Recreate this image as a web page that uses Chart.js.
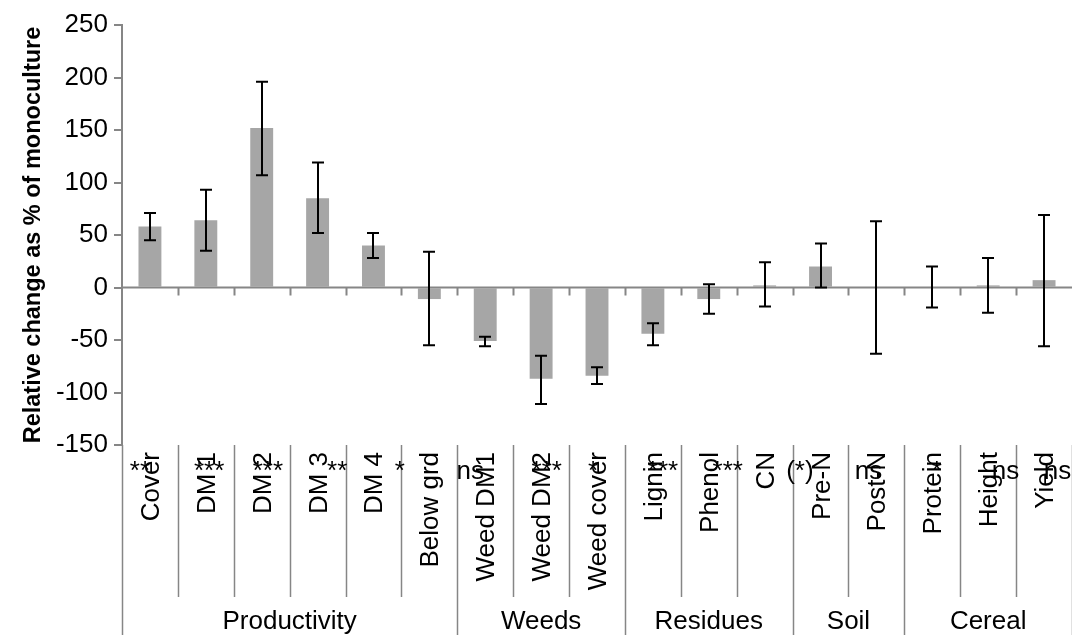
<!DOCTYPE html>
<html>
<head>
<meta charset="utf-8">
<script src="https://cdn.jsdelivr.net/npm/chart.js@4/dist/chart.umd.min.js"></script>
<style>
  body { margin: 0; background: #fff; }
  #wrap { width: 1072px; height: 635px; }
</style>
</head>
<body>
<div id="wrap"><canvas id="chart" width="1072" height="635"></canvas></div>
<script>
// categories and groups
const labels = ['Cover', 'DM 1', 'DM 2', 'DM 3', 'DM 4', 'Below grd', 'Weed DM1', 'Weed DM2', 'Weed cover',
  'Lignin', 'Phenol', 'CN', 'Pre-N', 'Post-N', 'Protein', 'Height', 'Yield'];
const groups = ['Productivity', 'Weeds', 'Residues', 'Soil', 'Cereal'];
const groupSizes = [6, 3, 3, 2, 3];

// relative change (%) and error bar ends
const values = [58, 64, 152, 85, 40, -11, -51, -87, -84, -44, -11, 2, 20, 0, 0, 2, 7];
const errHigh = [71, 93, 196, 119, 52, 34, -47, -65, -76, -34, 3, 24, 42, 63, 20, 28, 69];
const errLow = [45, 35, 107, 52, 28, -55, -56, -111, -92, -55, -25, -18, 0, -63, -19, -24, -56];

// significance marks
const sigMarks = ['**', '***', '***', '**', '*', 'ns', '', '***', '*', '***', '***', '(*)', '', 'ns', '*', 'ns', 'ns'];

const yTicks = { min: -150, max: 250, step: 50 };

// layout only: where each mark sits relative to its category centre (in categories)
const sigShift = [-0.18, 0.06, 0.11, 0.35, 0.47, 0.73, 0, 0.10, -0.07, 0.18, 0.34, 0.63, 0, -0.14, 0.08, 0.31, 0.24];

const FONT = '"Liberation Sans", Arial, sans-serif';
const AXIS = '#868686';

const overlay = {
  id: 'overlay',
  afterDatasetsDraw(chart) {
    const { ctx, chartArea: a, scales: { x, y } } = chart;
    const catW = (a.right - a.left) / labels.length;
    const y0 = y.getPixelForValue(0);
    ctx.save();
    // zero line + small tick marks under it
    ctx.strokeStyle = AXIS;
    ctx.lineWidth = 2;
    ctx.beginPath();
    ctx.moveTo(a.left, y0);
    ctx.lineTo(a.right, y0);
    for (let k = 1; k < labels.length; k++) {
      const px = Math.round(a.left + k * catW) + 0.5;
      ctx.moveTo(px, y0);
      ctx.lineTo(px, y0 + 8);
    }
    ctx.stroke();

    // error bars
    ctx.strokeStyle = '#000';
    ctx.lineWidth = 2;
    ctx.beginPath();
    values.forEach((v, i) => {
      const cx = Math.round(x.getPixelForValue(i));
      const hi = y.getPixelForValue(errHigh[i]);
      const lo = y.getPixelForValue(errLow[i]);
      ctx.moveTo(cx, hi); ctx.lineTo(cx, lo);
      ctx.moveTo(cx - 6, hi); ctx.lineTo(cx + 6, hi);
      ctx.moveTo(cx - 6, lo); ctx.lineTo(cx + 6, lo);
    });
    ctx.stroke();
    ctx.restore();
  },
  afterDraw(chart) {
    const { ctx, chartArea: a, scales: { x } } = chart;
    const H = chart.height;
    const catW = (a.right - a.left) / labels.length;
    ctx.save();

    // separators in label area
    ctx.strokeStyle = AXIS;
    ctx.lineWidth = 1.5;
    ctx.beginPath();
    const groupEnds = [0];
    groupSizes.reduce((s, n) => { groupEnds.push(s + n); return s + n; }, 0);
    for (let k = 0; k <= labels.length; k++) {
      const px = Math.round(a.left + k * catW) + 0.5;
      const full = groupEnds.includes(k);
      ctx.moveTo(px, a.bottom);
      ctx.lineTo(px, full ? H : a.bottom + 152);
    }
    ctx.stroke();

    // rotated category labels
    ctx.fillStyle = '#000';
    ctx.font = '26px ' + FONT;
    ctx.textAlign = 'right';
    ctx.textBaseline = 'alphabetic';
    labels.forEach((lab, i) => {
      const cx = x.getPixelForValue(i);
      ctx.save();
      ctx.translate(cx + 9, a.bottom + 7);
      ctx.rotate(-Math.PI / 2);
      ctx.fillText(lab, 0, 0);
      ctx.restore();
    });

    // significance marks
    ctx.textAlign = 'center';
    sigMarks.forEach((m, i) => {
      if (!m) return;
      const cx = x.getPixelForValue(i) + sigShift[i] * catW;
      ctx.fillText(m, cx, a.bottom + 34);
    });

    // group labels
    groups.forEach((g, j) => {
      const mid = a.left + (groupEnds[j] + groupEnds[j + 1]) / 2 * catW;
      ctx.fillText(g, mid, H - 6);
    });

    // y axis title
    ctx.font = 'bold 23.5px ' + FONT;
    ctx.save();
    ctx.translate(40, (a.top + a.bottom) / 2);
    ctx.rotate(-Math.PI / 2);
    ctx.textAlign = 'center';
    ctx.fillText('Relative change as % of monoculture', 0, 0);
    ctx.restore();

    ctx.restore();
  }
};

new Chart(document.getElementById('chart'), {
  type: 'bar',
  data: {
    labels: labels,
    datasets: [{
      data: values,
      backgroundColor: '#a6a6a6',
      borderWidth: 0,
      categoryPercentage: 1,
      barPercentage: 0.41
    }]
  },
  options: {
    responsive: false,
    animation: false,
    layout: { padding: { left: 0, right: 0, top: 25, bottom: 190 } },
    plugins: { legend: { display: false }, tooltip: { enabled: false } },
    scales: {
      x: { display: false },
      y: {
        min: yTicks.min,
        max: yTicks.max,
        ticks: { stepSize: yTicks.step, color: '#000', padding: 6, font: { family: FONT, size: 26 } },
        grid: { drawOnChartArea: false, drawTicks: true, tickLength: 8, tickColor: AXIS, lineWidth: 2 },
        border: { color: AXIS, width: 2 },
        afterFit(s) { s.width = 122; }
      }
    }
  },
  plugins: [overlay]
});
</script>
</body>
</html>
